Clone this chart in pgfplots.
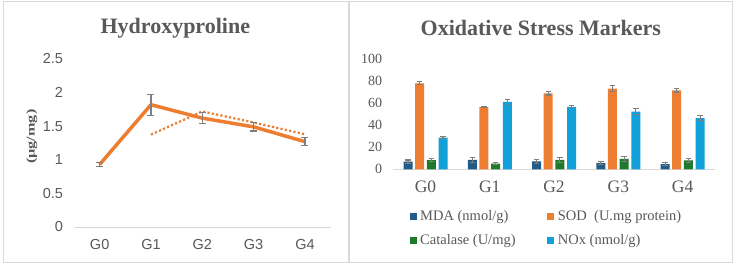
\documentclass[border=0pt]{standalone}
\usepackage{pgfplots}
\pgfplotsset{compat=1.18}
\usepackage{fontspec}
\setmainfont{Liberation Serif}
\newfontfamily\arialfont{Liberation Sans}

\definecolor{txt}{HTML}{595959}
\definecolor{errgray}{HTML}{7F7F7F}
\definecolor{axgray}{HTML}{D9D9D9}
\definecolor{framegray}{HTML}{D9D9D9}
\definecolor{hyp}{HTML}{ED7D31}
\definecolor{mda}{HTML}{1F5C8A}
\definecolor{sod}{HTML}{ED7D31}
\definecolor{cat}{HTML}{1E7A2A}
\definecolor{nox}{HTML}{12A0D8}

% Hydroxyproline (ug/mg): mean and error per group
\pgfplotstableread{
x  y     e
0  0.93  0.025
1  1.82  0.155
2  1.62  0.08
3  1.49  0.06
4  1.27  0.06
}\hydroxy

% two-period moving average of the means
\pgfplotstableread{
x  y
1  1.375
2  1.72
3  1.555
4  1.38
}\hydroxytrend

% oxidative stress markers per group
\pgfplotstableread{
x  mda  mdae  sod   sode  cat  cate  nox   noxe
0  7.0  1.5   78.2  1.5   8.4  1.5   28.8  1.2
1  8.5  2.0   56.5  0.5   5.1  0.8   61.2  2.0
2  7.2  2.0   69.0  1.5   8.5  2.0   56.8  1.0
3  5.8  1.5   73.3  2.5   9.4  2.0   52.4  2.5
4  4.8  1.5   71.8  1.5   8.2  2.0   46.6  2.0
}\oxid

\begin{document}
\begin{tikzpicture}[x=1pt,y=1pt]
\useasboundingbox (0,0) rectangle (735,265);
\fill[white] (0,0) rectangle (735,265);
\draw[framegray, line width=1pt] (3,3) rectangle (348,263);
\draw[framegray, line width=1pt] (349,3) rectangle (732,263);

\node[font=\bfseries\fontsize{22}{24}\selectfont, text=txt] at (175.3,236.7) {Hydroxyproline};
\node[font=\bfseries\fontsize{22}{24}\selectfont, text=txt] at (540.8,236.7) {Oxidative Stress Markers};
\node[font=\bfseries\fontsize{12}{14}\selectfont, text=txt, rotate=90] at (31.7,128.3) {\scalebox{1.35}[1]{(µg/mg)}};

% left panel: line chart
\begin{axis}[
  at={(74pt,38pt)}, anchor=south west,
  scale only axis, width=256.6pt, height=168pt,
  xmin=-0.5, xmax=4.5, ymin=0, ymax=2.5,
  xtick={0,1,2,3,4}, xticklabels={G0,G1,G2,G3,G4},
  ytick={0,0.5,1,1.5,2,2.5},
  axis lines=left, axis line style={-},
  y axis line style={draw=none},
  x axis line style={draw=axgray, line width=1pt},
  major tick length=0pt,
  /pgf/number format/assume math mode=true,
  tick label style={font=\arialfont\fontsize{14.5}{16}\selectfont, text=txt},
  xticklabel style={anchor=center, yshift=-18pt},
  yticklabel style={anchor=east, xshift=-7.5pt},
  clip=false,
]
\addplot[hyp, line width=2.2pt, dash pattern=on 2.2pt off 2.2pt] table[x=x, y=y] {\hydroxytrend};
\addplot[hyp, line width=3.5pt, line join=round,
  error bars/.cd, y dir=both, y explicit,
  error bar style={line width=1.2pt, draw=errgray},
  error mark options={rotate=90, mark size=3.5pt, line width=1.2pt, draw=errgray}]
  table[x=x, y=y, y error=e] {\hydroxy};
\end{axis}

% right panel: grouped bars
\begin{axis}[
  at={(393.4pt,95.7pt)}, anchor=south west,
  scale only axis, width=321.3pt, height=110pt,
  xmin=-0.5, xmax=4.5, ymin=0, ymax=100,
  xtick={0,1,2,3,4}, xticklabels={G0,G1,G2,G3,G4},
  ytick={0,20,40,60,80,100},
  ybar=2.67pt, bar width=9pt,
  axis lines=left, axis line style={-},
  y axis line style={draw=none},
  x axis line style={draw=axgray, line width=1pt},
  major tick length=0pt,
  /pgf/number format/assume math mode=true,
  xticklabel style={font=\fontsize{17.5}{19}\selectfont, text=txt, anchor=center, yshift=-17.4pt},
  yticklabel style={font=\fontsize{14}{16}\selectfont, text=txt, anchor=east, xshift=-7.7pt},
  legend image code/.code={\fill[#1] (0pt,-3.5pt) rectangle (7pt,3.5pt);},
  legend columns=2,
  legend cell align=left,
  legend style={at={(rel axis cs:0.0495,-0.371)}, anchor=north west,
    draw=none, fill=none, inner sep=0pt,
    font=\fontsize{14.5}{16}\selectfont, text=txt,
    nodes={inner sep=0pt},
    row sep=12.8pt,
    /tikz/every odd column/.append style={column sep=3.7pt},
    /tikz/every even column/.append style={column sep=31.6pt}},
  clip=false,
]
\addplot[fill=mda, draw=none,
  error bars/.cd, y dir=both, y explicit,
  error bar style={line width=1.1pt, draw=errgray},
  error mark options={rotate=90, mark size=2.7pt, line width=1.1pt, draw=errgray}]
  table[x=x, y=mda, y error=mdae] {\oxid};
\addplot[fill=sod, draw=none,
  error bars/.cd, y dir=both, y explicit,
  error bar style={line width=1.1pt, draw=errgray},
  error mark options={rotate=90, mark size=2.7pt, line width=1.1pt, draw=errgray}]
  table[x=x, y=sod, y error=sode] {\oxid};
\addplot[fill=cat, draw=none,
  error bars/.cd, y dir=both, y explicit,
  error bar style={line width=1.1pt, draw=errgray},
  error mark options={rotate=90, mark size=2.7pt, line width=1.1pt, draw=errgray}]
  table[x=x, y=cat, y error=cate] {\oxid};
\addplot[fill=nox, draw=none,
  error bars/.cd, y dir=both, y explicit,
  error bar style={line width=1.1pt, draw=errgray},
  error mark options={rotate=90, mark size=2.7pt, line width=1.1pt, draw=errgray}]
  table[x=x, y=nox, y error=noxe] {\oxid};
\legend{MDA (nmol/g), SOD\ \ (U.mg protein), Catalase (U/mg), NOx (nmol/g)}
\end{axis}
\end{tikzpicture}
\end{document}
